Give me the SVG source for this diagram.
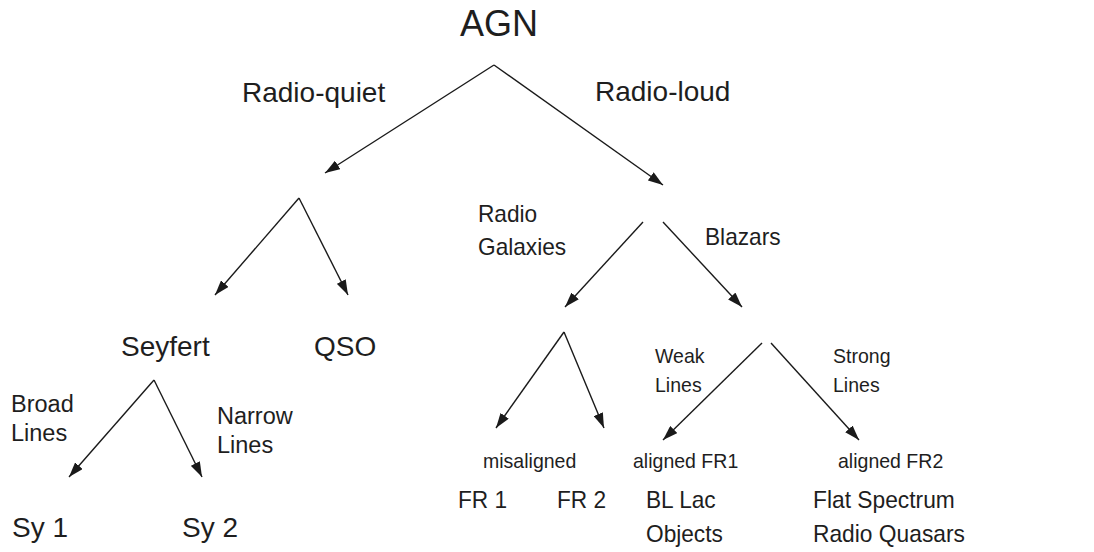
<svg xmlns="http://www.w3.org/2000/svg" width="1094" height="552" viewBox="0 0 1094 552">
<defs>
<marker id="ah" viewBox="0 0 15 10" refX="15" refY="5" markerWidth="15" markerHeight="10" markerUnits="userSpaceOnUse" orient="auto">
<path d="M0,0 L15,5 L0,10 z" fill="#1a1a1a"/>
</marker>
</defs>
<style>
text{font-family:"Liberation Sans",Arial,sans-serif;fill:#1e1e1e}
.l{font-size:28px}
.b{font-size:23.5px}
.m{font-size:24px}
.s{font-size:21px}
.c line{stroke:#1a1a1a;stroke-width:1.4;marker-end:url(#ah)}
</style>
<rect width="1094" height="552" fill="#fff"/>
<g class="c" id="connectors">
<line x1="494" y1="65" x2="325" y2="173"/>
<line x1="494" y1="65" x2="663" y2="185"/>
<line x1="299" y1="198" x2="215" y2="295"/>
<line x1="299" y1="198" x2="348" y2="295"/>
<line x1="154" y1="380" x2="69" y2="477"/>
<line x1="154" y1="380" x2="202" y2="477"/>
<line x1="643" y1="222" x2="565" y2="307"/>
<line x1="663" y1="222" x2="742" y2="307"/>
<line x1="564" y1="332" x2="496" y2="428"/>
<line x1="564" y1="332" x2="604" y2="428"/>
<line x1="762" y1="343" x2="663" y2="440"/>
<line x1="771" y1="343" x2="859" y2="440"/>
</g>
<g id="agn"><text x="460" y="36" style="font-size:36px">AGN</text></g>
<g id="radio-quiet"><text class="l" x="242" y="102">Radio-quiet</text></g>
<g id="radio-loud"><text class="l" x="595" y="101">Radio-loud</text></g>
<g id="seyfert"><text class="l" x="121" y="356">Seyfert</text></g>
<g id="qso"><text class="l" x="314" y="356">QSO</text></g>
<g id="broad"><text class="b" x="11" y="412">Broad</text><text class="b" x="11" y="441">Lines</text></g>
<g id="narrow"><text class="b" x="217" y="424">Narrow</text><text class="b" x="217" y="453">Lines</text></g>
<g id="sy1"><text class="l" x="12" y="537">Sy 1</text></g>
<g id="sy2"><text class="l" x="182" y="537">Sy 2</text></g>
<g id="radio-galaxies" transform="translate(478 0) scale(0.945 1)"><text class="m" x="0" y="222">Radio</text><text class="m" x="0" y="255">Galaxies</text></g>
<g id="blazars" transform="translate(705 0) scale(0.945 1)"><text class="m" x="0" y="245">Blazars</text></g>
<g id="weak" transform="translate(655 0) scale(0.93 1)"><text class="s" x="0" y="363">Weak</text><text class="s" x="0" y="392">Lines</text></g>
<g id="strong" transform="translate(833 0) scale(0.93 1)"><text class="s" x="0" y="363">Strong</text><text class="s" x="0" y="392">Lines</text></g>
<g id="misaligned" transform="translate(483 0) scale(0.93 1)"><text class="s" x="0" y="468">misaligned</text></g>
<g id="aligned1" transform="translate(633 0) scale(0.93 1)"><text class="s" x="0" y="468">aligned FR1</text></g>
<g id="aligned2" transform="translate(838 0) scale(0.93 1)"><text class="s" x="0" y="468">aligned FR2</text></g>
<g id="fr1" transform="translate(458 0) scale(0.945 1)"><text class="m" x="0" y="508">FR 1</text></g>
<g id="fr2" transform="translate(557 0) scale(0.945 1)"><text class="m" x="0" y="508">FR 2</text></g>
<g id="bllac" transform="translate(646 0) scale(0.945 1)"><text class="m" x="0" y="508">BL Lac</text><text class="m" x="0" y="542">Objects</text></g>
<g id="fsrq" transform="translate(813 0) scale(0.95 1)"><text class="m" x="0" y="508">Flat Spectrum</text><text class="m" x="0" y="542">Radio Quasars</text></g>
</svg>
